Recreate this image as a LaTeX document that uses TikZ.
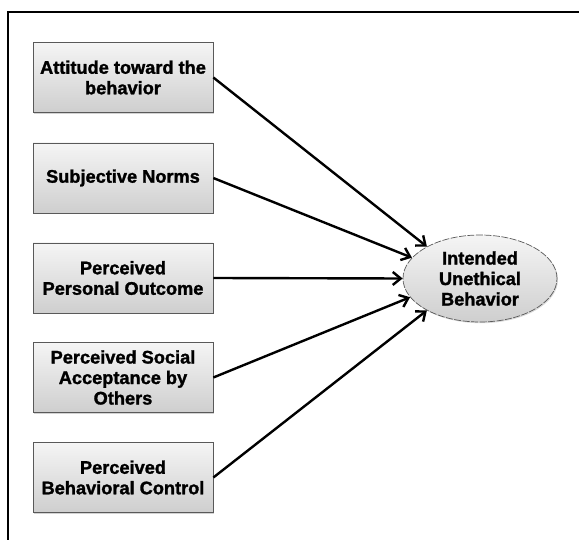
\documentclass[tikz,border=0pt]{standalone}
\usepackage{fontspec}
\setmainfont{Liberation Sans}
\newfontfamily\heavy[FakeBold=1.5]{Liberation Sans Bold}
\usetikzlibrary{arrows.meta,shapes.geometric,shadows}
\begin{document}
\begin{tikzpicture}[x=1pt,y=-1pt,
  factor/.style={draw=gray!70!black, line width=0.7pt, minimum width=180pt, minimum height=70pt,
    top color=gray!8, bottom color=gray!38, align=center, inner sep=2pt,
    font=\fontsize{18.2}{20.5}\heavy,
    drop shadow={shadow xshift=1.2pt, shadow yshift=-1.5pt, opacity=0.35}},
  outcome/.style={ellipse, draw=gray!70!black, dash pattern=on 7pt off 1.5pt, line width=0.7pt,
    minimum width=154pt, minimum height=87pt, inner sep=0pt,
    top color=gray!8, bottom color=gray!38, align=center,
    font=\fontsize{18.2}{20.5}\heavy,
    drop shadow={shadow xshift=1pt, shadow yshift=-1.2pt, opacity=0.3}},
  link/.style={line width=2.4pt, -{Straight Barb[length=8pt,width=13pt,line width=2.4pt]}},
  frame/.style={line width=1.8pt}]
\useasboundingbox (0,0) rectangle (579,540);
\coordinate (fa) at (8,540);
\coordinate (fb) at (8,12);
\coordinate (fc) at (579,12);
\draw[frame] (fa) -- (fb) -- (fc);
\node[factor] (b1) at (123,77.5) {Attitude toward the\\behavior};
\node[factor] (b2) at (123,178) {Subjective Norms};
\node[factor] (b3) at (123,278) {Perceived\\Personal Outcome};
\node[factor] (b4) at (123,377.5) {Perceived Social\\Acceptance by\\Others};
\node[factor] (b5) at (123,477.5) {Perceived\\Behavioral Control};
\node[outcome] (y) at (480,278.5) {Intended\\Unethical\\Behavior};
\draw[link] (b1.east) -- (y.149);
\draw[link] (b2.east) -- (y.163);
\draw[link] (b3.east) -- (y.180);
\draw[link] (b4.east) -- (y.195);
\draw[link] (b5.east) -- (y.211);
\end{tikzpicture}
\end{document}
